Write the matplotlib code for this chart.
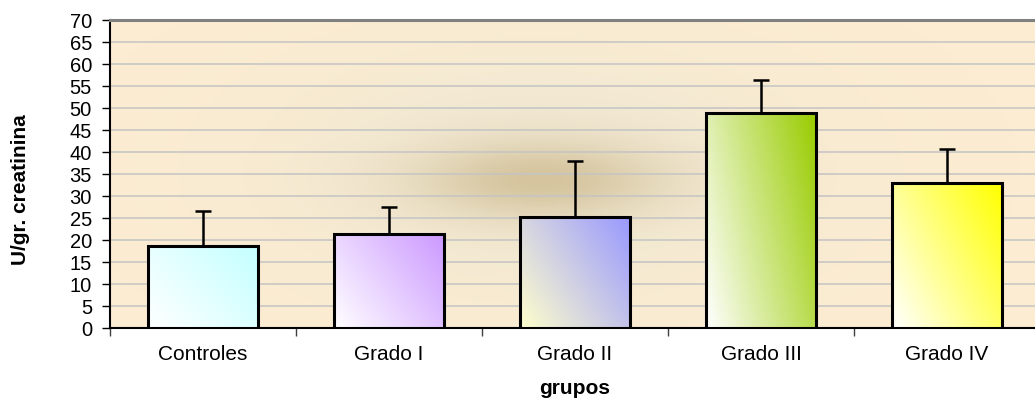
import matplotlib
matplotlib.use("Agg")
import matplotlib.pyplot as plt
import numpy as np
from matplotlib.colors import to_rgb
from matplotlib.patches import Rectangle

categories = ["Controles", "Grado I", "Grado II", "Grado III", "Grado IV"]
means = [18.6, 21.3, 25.2, 48.8, 32.9]
errors = [8.1, 6.3, 12.7, 7.6, 7.7]
top_colors = ["#C4FFFF", "#CC99FF", "#9999FF", "#99CC00", "#FFFF00"]
low_colors = ["#FFFFFF", "#FFFFFF", "#FFFFCC", "#FFFFFF", "#FFFFFF"]
y_ticks = list(range(0, 75, 5))

plt.rcParams["font.family"] = ["Liberation Sans", "DejaVu Sans"]

W, H = 1035, 401
fig = plt.figure(figsize=(W / 100, H / 100), dpi=100)
left, right, top, bottom = 110, 1040, 20, 328
ax = fig.add_axes([left / W, (H - bottom) / H, (right - left) / W, (bottom - top) / H])
ax.set_xlim(0, len(categories))
ax.set_ylim(0, 70)

# plot area background: peach with a blurred brown blob in the middle
pw, ph = right - left, bottom - top
xx, yy = np.meshgrid(np.linspace(0, pw, 400), np.linspace(0, ph, 160))
base = np.array(to_rgb("#FDEDD1"))
mid = np.array(to_rgb("#F0E8D3"))
dark = np.array(to_rgb("#D5C49D"))
broad = np.exp(-(((xx - 430) / 300) ** 2 + ((yy - 150) / 140) ** 2))
tight = np.exp(-(((xx - 430) / 125) ** 2 + ((yy - 160) / 40) ** 2))
bg = base * (1 - broad[..., None]) + mid * broad[..., None]
bg = bg * (1 - tight[..., None]) + dark * tight[..., None]
ax.imshow(bg, extent=(0, len(categories), 0, 70), origin="upper", aspect="auto", zorder=0)

for y in y_ticks[1:]:
    ax.axhline(y, color="#C4C4C4", linewidth=1.1, zorder=1)

width = 0.59
for i, (m, e) in enumerate(zip(means, errors)):
    x0 = i + 0.5 - width / 2
    rect = Rectangle((x0, 0), width, m, facecolor="none", edgecolor="black",
                     linewidth=2.2, zorder=4)
    ax.add_patch(rect)
    u, v = np.meshgrid(np.linspace(0, 1, 100), np.linspace(0, 1, 100))
    wu = 0.7 if i == 3 else 0.6
    t = np.clip(wu * u + (1 - wu) * v, 0, 1)
    c0, c1 = np.array(to_rgb(low_colors[i])), np.array(to_rgb(top_colors[i]))
    grad = c0 * (1 - t[..., None]) + c1 * t[..., None]
    im = ax.imshow(grad, extent=(x0, x0 + width, 0, m), origin="lower",
                   aspect="auto", zorder=3)
    clip = Rectangle((x0, 0), width, m, transform=ax.transData)
    im.set_clip_path(clip)
    ax.errorbar(i + 0.5, m, yerr=[[0], [e]], fmt="none", ecolor="black",
                elinewidth=1.8, capsize=6, capthick=1.8, zorder=5)

ax.set_yticks(y_ticks)
ax.set_xticks(range(len(categories) + 1))
ax.set_xticklabels([])
ax.set_xticks([i + 0.5 for i in range(len(categories))], minor=True)
ax.set_xticklabels(categories, minor=True, fontsize=15)
ax.tick_params(axis="x", which="major", length=6, width=1, color="#404040")
ax.tick_params(axis="x", which="minor", length=0, pad=12)
ax.tick_params(axis="y", length=6, width=1, labelsize=14.5, pad=7)

for side in ("left", "bottom"):
    ax.spines[side].set_color("black")
    ax.spines[side].set_linewidth(1.5)
ax.spines["top"].set_color("#808080")
ax.spines["top"].set_linewidth(2.2)
ax.spines["right"].set_visible(False)

ax.set_xlabel("grupos", fontsize=15, fontweight="bold", labelpad=11)
ax.set_ylabel("U/gr. creatinina", fontsize=15, fontweight="bold")
ax.yaxis.set_label_coords(-0.086, 0.45)

fig.savefig("out.png", dpi=100)
